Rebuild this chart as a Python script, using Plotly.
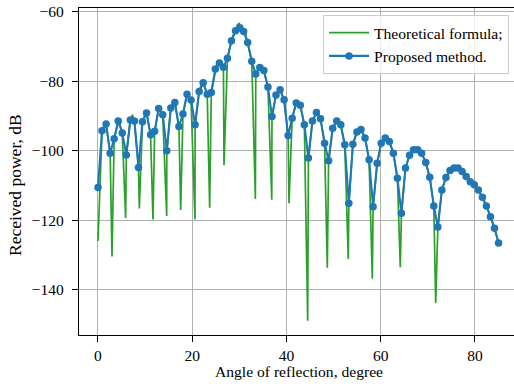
import plotly.graph_objects as go

# Sample angles of the proposed method (degrees)
angles = [0.00, 0.86, 1.72, 2.58, 3.43, 4.29, 5.15, 6.01, 6.87, 7.73,
          8.59, 9.44, 10.30, 11.16, 12.02, 12.88, 13.74, 14.60, 15.45, 16.31,
          17.17, 18.03, 18.89, 19.75, 20.61, 21.46, 22.32, 23.18, 24.04, 24.90,
          25.76, 26.62, 27.47, 28.33, 29.19, 30.05, 30.91, 31.77, 32.63, 33.48,
          34.34, 35.20, 36.06, 36.92, 37.78, 38.64, 39.49, 40.35, 41.21, 42.07,
          42.93, 43.79, 44.65, 45.51, 46.36, 47.22, 48.08, 48.94, 49.80, 50.66,
          51.52, 52.37, 53.23, 54.09, 54.95, 55.81, 56.67, 57.53, 58.38, 59.24,
          60.10, 60.96, 61.82, 62.68, 63.54, 64.39, 65.25, 66.11, 66.97, 67.83,
          68.69, 69.55, 70.40, 71.26, 72.12, 72.98, 73.84, 74.70, 75.56, 76.41,
          77.27, 78.13, 78.99, 79.85, 80.71, 81.57, 82.42, 83.28, 84.14, 85.00]

# Received power of the proposed method (dB)
proposed = [-110.6, -94.2, -92.3, -100.7, -96.5, -91.4, -94.9, -101.2, -91.1, -91.4,
            -104.8, -91.6, -89.1, -95.4, -94.4, -87.8, -89.6, -100.0, -87.7, -86.1,
            -93.0, -89.4, -83.7, -85.4, -92.5, -82.9, -80.4, -83.7, -83.2, -76.4,
            -74.7, -75.9, -73.3, -68.3, -65.4, -64.6, -65.6, -68.8, -74.2, -77.9,
            -76.0, -76.9, -81.6, -90.1, -83.9, -82.4, -85.3, -95.6, -90.6, -86.2,
            -86.9, -92.5, -102.1, -91.4, -89.0, -90.8, -97.8, -102.9, -93.5, -91.4,
            -92.5, -98.3, -115.1, -98.1, -94.6, -93.9, -96.3, -102.6, -116.1, -103.6,
            -97.8, -96.3, -97.3, -100.7, -107.9, -118.0, -105.0, -101.3, -99.7, -99.7,
            -100.7, -103.4, -107.6, -115.9, -122.0, -111.3, -107.7, -105.7, -105.0, -105.0,
            -106.0, -107.4, -108.9, -109.8, -111.3, -113.4, -115.9, -119.0, -122.3, -126.6]

# Theoretical curve: nulls
null_x = [0.00, 2.97, 5.87, 8.77, 11.67, 14.58, 17.55, 20.58, 23.70, 26.74,
          33.40, 36.88, 40.53, 44.50, 48.66, 53.11, 58.21, 64.15, 71.66]
null_y = [-126.0, -130.5, -119.4, -116.6, -119.8, -118.8, -117.1, -119.8, -116.4, -104.2,
          -113.9, -114.1, -115.1, -149.0, -133.7, -131.2, -136.9, -133.6, -143.9]

# Theoretical curve: lobe peaks
peak_x = [1.6, 4.4, 7.3, 10.2, 13.1, 16.0, 19.0, 22.1, 25.3, 28.8, 29.6, 30.0, 30.5,
          31.3, 34.9, 38.6, 42.4, 46.5, 50.8, 55.4, 61.0, 67.4, 76.0]
peak_y = [-91.6, -91.2, -89.6, -88.9, -87.5, -85.8, -83.5, -80.1, -74.4, -66.3, -63.6, -63.3, -63.7,
          -66.3, -75.6, -82.2, -86.0, -88.8, -91.2, -93.7, -96.1, -99.5, -104.8]

# Theoretical curve follows the sampled values elsewhere
pts = list(zip(angles[1:], proposed[1:])) + list(zip(null_x, null_y)) + list(zip(peak_x, peak_y))
pts.sort(key=lambda p: p[0])
theory_x = [p[0] for p in pts]
theory_y = [p[1] for p in pts]

x_ticks = [0, 20, 40, 60, 80]
y_ticks = [-140, -120, -100, -80, -60]

SERIF = "Liberation Serif"

fig = go.Figure()
fig.add_trace(go.Scatter(x=theory_x, y=theory_y, mode="lines",
                         line=dict(color="#2ca02c", width=1.7),
                         name="Theoretical formula;"))
fig.add_trace(go.Scatter(x=angles, y=proposed, mode="lines+markers",
                         line=dict(color="#1f77b4", width=2.1),
                         marker=dict(size=7.5, color="#1f77b4"),
                         name="Proposed method."))

axis_common = dict(showgrid=True, gridcolor="#b0b0b0", gridwidth=1.1,
                   showline=True, linecolor="black", linewidth=1.1,
                   ticks="outside", ticklen=6, tickwidth=1.1, tickcolor="black",
                   zeroline=False,
                   tickfont=dict(family=SERIF, size=15.5, color="black"))

fig.update_layout(
    width=514, height=392,
    margin=dict(l=79, r=0, t=8, b=57),
    paper_bgcolor="white", plot_bgcolor="white",
    font=dict(family=SERIF, size=15.5, color="black"),
    xaxis=dict(range=[-4.03, 88.28], tickvals=x_ticks, mirror=True, **axis_common),
    yaxis=dict(range=[-153.1, -58.85], tickvals=y_ticks, mirror=False,
               ticklabelstandoff=5, **axis_common),
    legend=dict(x=0.561, y=0.9786, xanchor="left", yanchor="top",
                bgcolor="rgba(255,255,255,0.8)", bordercolor="#cccccc", borderwidth=1,
                itemwidth=40,
                font=dict(family=SERIF, size=15.6, color="black")),
    showlegend=True,
    annotations=[
        dict(text="Angle of reflection, degree", xref="paper", yref="paper",
             x=(299 - 79) / 435, y=(335 - 371) / 327, xanchor="center", yanchor="middle",
             showarrow=False, font=dict(family=SERIF, size=15.6, color="black")),
        dict(text="Received power, dB", xref="paper", yref="paper",
             x=(15 - 79) / 435, y=(335 - 185) / 327, xanchor="center", yanchor="middle",
             textangle=-90, showarrow=False,
             font=dict(family=SERIF, size=17.5, color="black")),
    ],
)

fig.write_html("out.html")
